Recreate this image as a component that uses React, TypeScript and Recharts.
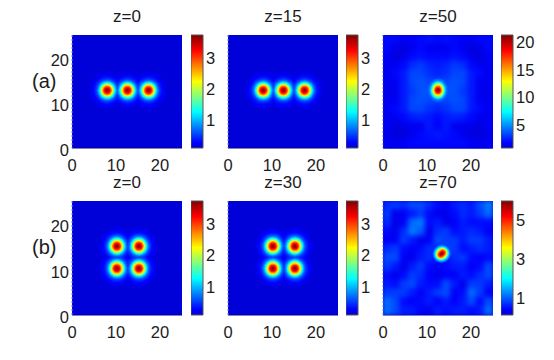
import React from "react";
import { ScatterChart, Scatter, XAxis, YAxis, CartesianGrid, BarChart, Bar } from "recharts";

const titles = ["z=0", "z=15", "z=50", "z=0", "z=30", "z=70"];
const barMin = [0.02, 0.02, 0.34, 0.02, 0.02, 0];
const barMax = [3.65, 3.65, 20.9, 3.65, 3.65, 5.85];
const barTicks = [[1, 2, 3], [1, 2, 3], [5, 10, 15, 20], [1, 2, 3], [1, 2, 3], [1, 3, 5]];
const axisTicks = [0, 10, 20];
const minorTicks = [0, 1, 2, 3, 4, 5, 6, 7, 8, 9, 10, 11, 12, 13, 14, 15, 16, 17, 18, 19, 20, 21, 22, 23, 24, 25];
const sideTicks = [10, 20];

// peak centres [x, y]
const centresA = [[8.0, 12.75], [12.6, 12.75], [17.4, 12.75]];
const centresB = [[10.2, 15.1], [15.2, 15.1], [10.2, 10.2], [15.2, 10.2]];
const centresC = [[12.5, 12.8]];
const centresD = [[13.35, 13.45]];

// iso-levels: value, radius along x, radius along y (data units)
const ringsSoliton = [
  [0.07, 4.3, 4.3], [0.14, 3.8, 3.8], [0.22, 3.35, 3.35], [0.3, 2.95, 2.95], [0.4, 2.7, 2.7], [0.55, 2.42, 2.42],
  [0.75, 2.2, 2.2], [0.95, 2.0, 2.0], [1.2, 1.82, 1.82], [1.5, 1.63, 1.63], [1.85, 1.47, 1.47], [2.2, 1.3, 1.3],
  [2.5, 1.13, 1.13], [2.8, 0.95, 0.95], [3.1, 0.76, 0.76], [3.35, 0.55, 0.55], [3.55, 0.3, 0.3],
];
const ringsZ50 = [
  [3.6, 2.3, 2.6], [4.4, 1.95, 2.25], [5, 1.85, 2.1], [6, 1.7, 1.95], [7.5, 1.55, 1.8], [9, 1.4, 1.6], [11, 1.25, 1.45],
  [13, 1.05, 1.2], [15, 0.9, 1.0], [17, 0.72, 0.82], [19, 0.5, 0.55], [20.5, 0.25, 0.3],
];
const ringsZ70 = [
  [0.9, 2.1, 1.95], [1.2, 1.9, 1.75], [1.5, 1.75, 1.6], [1.9, 1.6, 1.45], [2.4, 1.45, 1.3], [2.9, 1.35, 1.15],
  [3.4, 1.25, 1.05], [3.9, 1.15, 0.9], [4.4, 1.0, 0.75], [4.9, 0.8, 0.55], [5.3, 0.6, 0.4], [5.7, 0.35, 0.2],
];

// coarse 13x13 background levels, top row first
const bgZ50 = [
  [1.5, 1.5, 1.2, 1.2, 1.5, 1.7, 1.5, 1.7, 1.5, 1.2, 1.2, 1.5, 1.5],
  [1.5, 0.8, 0.5, 1.0, 1.5, 1.0, 0.8, 1.0, 1.5, 1.0, 0.5, 0.8, 1.5],
  [1.2, 0.5, 0.8, 1.5, 1.7, 1.5, 1.5, 1.5, 1.7, 1.5, 0.8, 0.5, 1.2],
  [1.0, 1.0, 1.5, 2.3, 2.6, 2.1, 1.9, 2.1, 2.6, 2.3, 1.5, 1.0, 1.0],
  [1.0, 1.5, 1.9, 2.9, 2.9, 2.4, 2.1, 2.4, 2.9, 2.9, 1.9, 1.5, 1.0],
  [1.0, 1.0, 1.9, 2.9, 3.1, 2.9, 2.8, 2.9, 3.1, 2.9, 1.9, 1.0, 1.0],
  [0.8, 1.0, 1.9, 2.6, 3.1, 3.2, 3.4, 3.2, 3.1, 2.6, 1.9, 1.0, 0.8],
  [1.0, 1.0, 1.9, 2.9, 3.1, 2.9, 2.8, 2.9, 3.1, 2.9, 1.9, 1.0, 1.0],
  [1.0, 1.5, 1.9, 2.9, 2.9, 2.4, 2.1, 2.4, 2.9, 2.9, 1.9, 1.5, 1.0],
  [1.0, 1.0, 1.5, 1.9, 2.1, 1.9, 1.5, 1.9, 2.1, 1.9, 1.5, 1.0, 1.0],
  [1.2, 0.5, 0.8, 1.0, 1.0, 1.9, 1.2, 1.9, 1.0, 1.0, 0.8, 0.5, 1.2],
  [0.8, 0.5, 0.5, 1.0, 1.5, 1.7, 1.9, 1.7, 1.5, 1.0, 0.5, 0.5, 0.8],
  [1.2, 1.0, 1.2, 1.5, 1.5, 1.5, 1.5, 1.5, 1.5, 1.5, 1.2, 1.0, 1.2],
];
const bgZ70 = [
  [0.55, 0.65, 0.55, 0.75, 0.75, 0.55, 0.35, 0.25, 0.45, 0.55, 0.45, 0.75, 1.05],
  [0.65, 0.15, 0.25, 0.45, 0.65, 0.35, 0.15, 0.15, 0.35, 0.55, 0.45, 0.65, 0.95],
  [0.55, 0.1, 0.25, 0.95, 1.05, 0.35, 0.45, 0.15, 0.25, 0.45, 0.35, 0.35, 0.35],
  [0.35, 0.15, 0.55, 1.05, 0.85, 0.15, 0.55, 0.65, 0.35, 0.45, 0.55, 0.45, 0.25],
  [0.25, 0.25, 0.65, 0.45, 0.15, 0.25, 0.75, 0.65, 0.65, 0.45, 0.65, 0.65, 0.45],
  [0.55, 0.65, 0.35, 0.25, 0.35, 0.55, 0.55, 0.65, 0.65, 0.35, 0.45, 0.55, 0.45],
  [0.75, 0.75, 0.25, 0.15, 0.45, 0.55, 0.45, 0.35, 0.55, 0.65, 0.35, 0.25, 0.35],
  [0.65, 0.45, 0.15, 0.45, 0.65, 0.35, 0.25, 0.35, 0.45, 0.45, 0.25, 0.35, 0.75],
  [0.35, 0.15, 0.35, 0.65, 0.55, 0.25, 0.15, 0.25, 0.25, 0.45, 0.35, 0.55, 0.75],
  [0.45, 0.35, 0.65, 0.75, 0.45, 0.35, 0.35, 0.75, 0.45, 0.15, 0.65, 0.65, 0.45],
  [0.65, 0.65, 0.65, 0.45, 0.25, 0.45, 0.65, 0.75, 0.25, 0.35, 0.95, 0.65, 0.25],
  [0.95, 0.75, 0.35, 0.25, 0.35, 0.45, 0.25, 0.45, 0.25, 0.45, 0.75, 0.35, 0.75],
  [0.95, 0.75, 0.45, 0.45, 0.25, 0.15, 0.45, 0.35, 0.45, 0.45, 0.35, 0.45, 0.95],
];

const panelCentres = [centresA, centresA, centresC, centresB, centresB, centresD];
const panelRings = [ringsSoliton, ringsSoliton, ringsZ50, ringsSoliton, ringsSoliton, ringsZ70];
const panelBg: (number[][] | null)[] = [null, null, bgZ50, null, null, bgZ70];

const FONT = "'Liberation Sans', Arial, sans-serif";
const TEXT = "#1c1c1c";
const PLOT_W = 110;
const AXIS_L = 40;
const AXIS_R = 4;
const AXIS_T = 30;
const AXIS_B = 30;
const COLS = [72, 227.5, 382.5];
const BAR_COLS = [191, 346, 501];
const ROWS = [35, 201];
const ROW_H = [113, 114];
const GRID_N = 13;
const CELL = 25 / GRID_N;
const tickStyle = { fill: TEXT, fontFamily: FONT, fontSize: 16.5 };
const tickStyleY = { ...tickStyle, dy: 2.5 };

const stops: [number, number[]][] = [
  [0, [0, 0, 216]], [0.05, [0, 0, 255]], [0.32, [0, 255, 255]], [0.59, [255, 255, 0]], [0.864, [255, 0, 0]], [1, [128, 0, 0]],
];
function jet(t: number) {
  const f = Math.max(0, Math.min(1, t));
  for (let i = 1; i < stops.length; i++) {
    if (f <= stops[i][0]) {
      const [a, ca] = stops[i - 1];
      const [b, cb] = stops[i];
      const k = (f - a) / (b - a);
      const c = ca.map((v, j) => Math.round(v + (cb[j] - v) * k));
      return `rgb(${c[0]},${c[1]},${c[2]})`;
    }
  }
  return "rgb(128,0,0)";
}

function Panel({ i }: { i: number }) {
  const row = i < 3 ? 0 : 1;
  const col = i % 3;
  const h = ROW_H[row];
  const pxX = PLOT_W / 25;
  const pxY = h / 25;
  const lo = barMin[i];
  const hi = barMax[i];
  const colour = (v: number) => jet((v - lo) / (hi - lo));
  const tilt = i === 5 ? -45 : 0;

  const rings: any[] = [];
  panelCentres[i].forEach(([x, y]) => panelRings[i].forEach(([v, rx, ry]) => rings.push({ x, y, v, rx, ry })));
  rings.sort((a, b) => a.v - b.v);

  const bg = panelBg[i];
  const cells: any[] = [];
  if (bg) bg.forEach((r, ry) => r.forEach((v, cx) => cells.push({ x: (cx + 0.5) * CELL, y: 25 - (ry + 0.5) * CELL, v })));

  const ringShape = (p: any) => (
    <ellipse
      cx={p.cx}
      cy={p.cy}
      rx={p.payload.rx * pxX}
      ry={p.payload.ry * pxY}
      fill={colour(p.payload.v)}
      transform={tilt ? `rotate(${tilt} ${p.cx} ${p.cy})` : undefined}
    />
  );
  const cellShape = (p: any) => {
    const w = CELL * pxX + 1;
    const hh = CELL * pxY + 1;
    return <rect x={p.cx - w / 2} y={p.cy - hh / 2} width={w} height={hh} fill={colour(p.payload.v)} />;
  };

  return (
    <div style={{ position: "absolute", left: COLS[col] - AXIS_L, top: ROWS[row] - AXIS_T }}>
      <ScatterChart
        width={AXIS_L + PLOT_W + AXIS_R}
        height={AXIS_T + h + AXIS_B}
        margin={{ top: 0, right: 0, bottom: 0, left: 0 }}
      >
        <CartesianGrid horizontal={false} vertical={false} fill={colour(lo)} fillOpacity={1} xAxisId="b" yAxisId="l" />
        <XAxis
          xAxisId="b"
          type="number"
          dataKey="x"
          domain={[0, 25]}
          ticks={axisTicks}
          height={AXIS_B}
          tickSize={0}
          tickMargin={11}
          axisLine={{ stroke: "#00008c" }}
          tick={tickStyle}
          interval={0}
        />
        <XAxis
          xAxisId="t"
          orientation="top"
          type="number"
          domain={[0, 25]}
          ticks={minorTicks}
          height={AXIS_T}
          tickSize={1.5}
          axisLine={false}
          tick={false}
          tickLine={{ stroke: "#c8c8ec", strokeWidth: 2 }}
          interval={0}
          label={{ value: titles[i], position: "insideTop", offset: 0, dy: 5, fill: TEXT, fontFamily: FONT, fontSize: 17 }}
        />
        <YAxis
          yAxisId="l"
          type="number"
          dataKey="y"
          domain={[0, 25]}
          ticks={col === 0 ? axisTicks : []}
          width={AXIS_L}
          tickSize={0}
          tickMargin={3}
          axisLine={{ stroke: "#8080c8", strokeDasharray: "2 2" }}
          tickLine={false}
          tick={tickStyleY}
          interval={0}
        />
        <YAxis
          yAxisId="r"
          orientation="right"
          type="number"
          domain={[0, 25]}
          ticks={sideTicks}
          width={AXIS_R}
          tickSize={1.5}
          axisLine={false}
          tick={false}
          tickLine={{ stroke: "#3c3cd0" }}
          interval={0}
        />
        {bg ? (
          <Scatter
            data={cells}
            xAxisId="b"
            yAxisId="l"
            dataKey="y"
            shape={cellShape}
            className="softBg"
            isAnimationActive={false}
          />
        ) : null}
        <Scatter
          data={rings}
          xAxisId="b"
          yAxisId="l"
          dataKey="y"
          shape={ringShape}
          className="softRings"
          isAnimationActive={false}
        />
      </ScatterChart>
    </div>
  );
}

function ColourBar({ i }: { i: number }) {
  const row = i < 3 ? 0 : 1;
  const col = i % 3;
  const pad = 10;
  const data = [{ name: titles[i], range: [barMin[i], barMax[i]] }];
  return (
    <div style={{ position: "absolute", left: BAR_COLS[col], top: ROWS[row] - pad }}>
      <BarChart
        width={41}
        height={ROW_H[row] + pad * 2}
        data={data}
        barCategoryGap={0}
        margin={{ top: pad, bottom: pad, left: 0, right: 0 }}
      >
        <XAxis dataKey="name" hide />
        <YAxis
          orientation="right"
          type="number"
          domain={[barMin[i], barMax[i]]}
          ticks={barTicks[i]}
          width={29}
          axisLine={false}
          tickLine={false}
          tickSize={0}
          tickMargin={3}
          tick={tickStyleY}
          interval={0}
        />
        <Bar dataKey="range" fill="url(#jetBar)" stroke="#555" strokeWidth={1} isAnimationActive={false} />
      </BarChart>
    </div>
  );
}

const indexes = [0, 1, 2, 3, 4, 5];

export default function App() {
  return (
    <div style={{ position: "absolute", left: 0, top: 0, width: 554, height: 360, background: "#fff", overflow: "hidden" }}>
      <style>{`.softBg{filter:blur(2.6px);clip-path:url(#plotClip)} .softRings{filter:blur(0.5px)}`}</style>
      <svg width={0} height={0} style={{ position: "absolute" }}>
        <defs>
          <clipPath id="plotClip">
            <rect x={AXIS_L} y={AXIS_T} width={PLOT_W} height={114} />
          </clipPath>
          <linearGradient id="jetBar" x1="0" y1="1" x2="0" y2="0">
            {stops.map(([o, c]) => (
              <stop key={o} offset={o} stopColor={`rgb(${c[0]},${c[1]},${c[2]})`} />
            ))}
          </linearGradient>
        </defs>
      </svg>
      {indexes.map((i) => (
        <Panel key={`p${i}`} i={i} />
      ))}
      {indexes.map((i) => (
        <ColourBar key={`c${i}`} i={i} />
      ))}
      <div style={{ position: "absolute", left: 32, top: 70, font: `20px ${FONT}`, color: TEXT }}>(a)</div>
      <div style={{ position: "absolute", left: 32, top: 236, font: `20px ${FONT}`, color: TEXT }}>(b)</div>
    </div>
  );
}
